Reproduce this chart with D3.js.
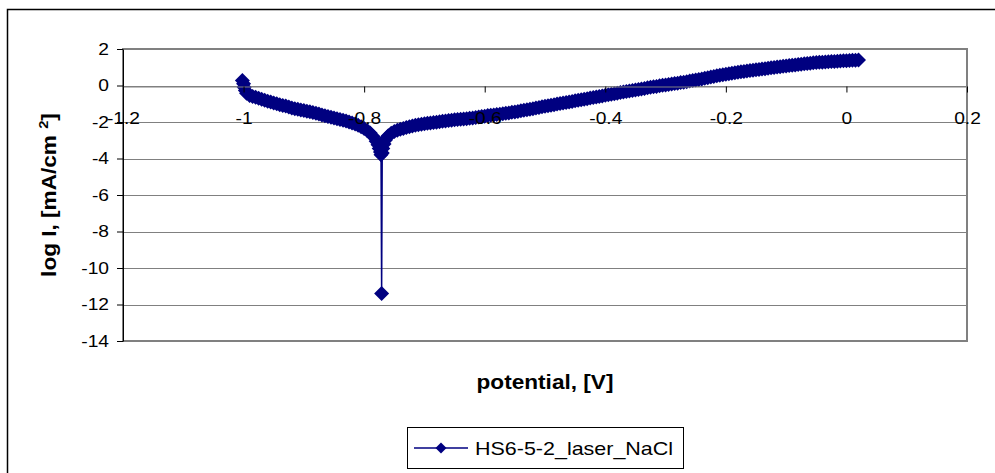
<!DOCTYPE html>
<html>
<head>
	<title>HS6-5-2 laser NaCl</title>
	<script type="text/javascript" src="https://cdn.jsdelivr.net/npm/d3@7"></script>
	<style>
		body { margin: 0; background: #fff; }
		text { font-family: "Liberation Sans", Arial, sans-serif; }
	</style>
</head>
<body>
	<script type="text/javascript">
		var width = 995,
			height = 473;

		var seriesName = 'HS6-5-2_laser_NaCl';
		// potential [V]
		var potential = [-1.002, -1.000, -0.999, -0.997, -0.995, -0.990, -0.985, -0.980, -0.975, -0.970,
			-0.965, -0.960, -0.955, -0.950, -0.945, -0.940, -0.935, -0.930, -0.925, -0.920,
			-0.915, -0.910, -0.905, -0.900, -0.895, -0.890, -0.885, -0.880, -0.875, -0.870,
			-0.865, -0.860, -0.855, -0.850, -0.845, -0.840, -0.835, -0.830, -0.825, -0.820,
			-0.815, -0.810, -0.805, -0.800, -0.795, -0.790, -0.785, -0.780, -0.777, -0.775,
			-0.773, -0.772, -0.771, -0.770, -0.769, -0.767, -0.765, -0.762, -0.760, -0.755,
			-0.750, -0.745, -0.740, -0.735, -0.730, -0.725, -0.720, -0.715, -0.710, -0.705,
			-0.700, -0.695, -0.690, -0.685, -0.680, -0.675, -0.670, -0.665, -0.660, -0.655,
			-0.650, -0.645, -0.640, -0.635, -0.630, -0.625, -0.620, -0.615, -0.610, -0.605,
			-0.600, -0.595, -0.590, -0.585, -0.580, -0.575, -0.570, -0.565, -0.560, -0.555,
			-0.550, -0.545, -0.540, -0.535, -0.530, -0.525, -0.520, -0.515, -0.510, -0.505,
			-0.500, -0.495, -0.490, -0.485, -0.480, -0.475, -0.470, -0.465, -0.460, -0.455,
			-0.450, -0.445, -0.440, -0.435, -0.430, -0.425, -0.420, -0.415, -0.410, -0.405,
			-0.400, -0.395, -0.390, -0.385, -0.380, -0.375, -0.370, -0.365, -0.360, -0.355,
			-0.350, -0.345, -0.340, -0.335, -0.330, -0.325, -0.320, -0.315, -0.310, -0.305,
			-0.300, -0.295, -0.290, -0.285, -0.280, -0.275, -0.270, -0.265, -0.260, -0.255,
			-0.250, -0.245, -0.240, -0.235, -0.230, -0.225, -0.220, -0.215, -0.210, -0.205,
			-0.200, -0.195, -0.190, -0.185, -0.180, -0.175, -0.170, -0.165, -0.160, -0.155,
			-0.150, -0.145, -0.140, -0.135, -0.130, -0.125, -0.120, -0.115, -0.110, -0.105,
			-0.100, -0.095, -0.090, -0.085, -0.080, -0.075, -0.070, -0.065, -0.060, -0.055,
			-0.050, -0.045, -0.040, -0.035, -0.030, -0.025, -0.020, -0.015, -0.010, -0.005,
			0.000, 0.005, 0.010, 0.015, 0.020];
		// log I [mA/cm2]
		var logI = [0.28, 0.10, -0.10, -0.28, -0.42, -0.55, -0.60, -0.65, -0.70, -0.76,
			-0.81, -0.86, -0.91, -0.96, -1.00, -1.05, -1.09, -1.13, -1.18, -1.23,
			-1.27, -1.30, -1.34, -1.37, -1.41, -1.44, -1.48, -1.52, -1.56, -1.61,
			-1.66, -1.70, -1.74, -1.78, -1.82, -1.86, -1.90, -1.95, -2.00, -2.05,
			-2.11, -2.18, -2.26, -2.35, -2.46, -2.60, -2.80, -3.05, -3.25, -3.45,
			-3.65, -3.80, -11.4, -3.70, -3.45, -3.20, -3.00, -2.85, -2.75, -2.62,
			-2.52, -2.45, -2.40, -2.35, -2.30, -2.26, -2.22, -2.18, -2.15, -2.12,
			-2.10, -2.07, -2.05, -2.03, -2.01, -1.98, -1.96, -1.94, -1.92, -1.90,
			-1.88, -1.86, -1.85, -1.83, -1.82, -1.80, -1.78, -1.75, -1.73, -1.70,
			-1.68, -1.65, -1.63, -1.61, -1.59, -1.57, -1.55, -1.52, -1.50, -1.47,
			-1.45, -1.42, -1.39, -1.36, -1.33, -1.30, -1.27, -1.23, -1.20, -1.17,
			-1.14, -1.11, -1.08, -1.05, -1.02, -0.99, -0.96, -0.93, -0.90, -0.87,
			-0.84, -0.81, -0.78, -0.75, -0.72, -0.69, -0.66, -0.63, -0.60, -0.57,
			-0.54, -0.51, -0.48, -0.45, -0.42, -0.39, -0.36, -0.33, -0.30, -0.28,
			-0.25, -0.22, -0.19, -0.16, -0.13, -0.10, -0.07, -0.05, -0.02, 0.01,
			0.03, 0.06, 0.08, 0.11, 0.13, 0.16, 0.18, 0.21, 0.24, 0.27,
			0.30, 0.33, 0.36, 0.40, 0.43, 0.47, 0.50, 0.53, 0.56, 0.59,
			0.61, 0.64, 0.67, 0.70, 0.72, 0.75, 0.77, 0.80, 0.82, 0.84,
			0.86, 0.88, 0.90, 0.92, 0.94, 0.97, 0.99, 1.01, 1.03, 1.05,
			1.07, 1.09, 1.11, 1.13, 1.15, 1.17, 1.19, 1.21, 1.22, 1.24,
			1.26, 1.27, 1.28, 1.29, 1.30, 1.31, 1.32, 1.33, 1.34, 1.35,
			1.36, 1.37, 1.38, 1.39, 1.40];

		var xTicks = [-1.2, -1, -0.8, -0.6, -0.4, -0.2, 0, 0.2];
		var yTicks = [2, 0, -2, -4, -6, -8, -10, -12, -14];

		var data = potential.map(function(v, i){ return {x : v, y : logI[i]}; });

		var svg = d3.select('body')
					.append('svg')
					.attr('width' , width)
					.attr('height' , height);

		var plot = {left : 123, right : 967, top : 49, bottom : 341};
		var navy = '#000080';
		var stretch = 1.13;   // the original texts are drawn a bit wide

		function widen(sel){
			sel.each(function(){
				var w = this.getComputedTextLength();
				d3.select(this).attr('textLength', w * stretch).attr('lengthAdjust', 'spacingAndGlyphs');
			});
		}

		// outer chart frame (runs off the picture on right and bottom)
		svg.append('path')
			.attr('d', 'M7.5,' + (height + 5) + ' V9.5 H' + (width + 5))
			.attr('fill', 'none')
			.attr('stroke', '#000')
			.attr('stroke-width', 1.5);

		var x = d3.scaleLinear().domain([-1.2, 0.2]).range([plot.left, plot.right]);
		var y = d3.scaleLinear().domain([-14, 2]).range([plot.bottom, plot.top]);

		// gridlines
		svg.append('g')
			.selectAll('line')
			.data(yTicks)
			.enter()
			.append('line')
			.attr('x1', plot.left)
			.attr('x2', plot.right)
			.attr('y1', function(d){ return Math.round(y(d)) + 0.5; })
			.attr('y2', function(d){ return Math.round(y(d)) + 0.5; })
			.attr('stroke', '#808080')
			.attr('stroke-width', 1);

		// plot area border
		svg.append('rect')
			.attr('x', plot.left)
			.attr('y', plot.top)
			.attr('width', plot.right - plot.left)
			.attr('height', plot.bottom - plot.top)
			.attr('fill', 'none')
			.attr('stroke', '#808080')
			.attr('stroke-width', 2);

		// series
		var line = d3.line()
					.x(function(d){ return x(d.x); })
					.y(function(d){ return y(d.y); });
		svg.append('path')
			.datum(data)
			.attr('d', line)
			.attr('fill', 'none')
			.attr('stroke', navy)
			.attr('stroke-width', 1.5);

		function diamond(r){
			return 'M0,' + (-r) + 'L' + r + ',0L0,' + r + 'L' + (-r) + ',0Z';
		}
		svg.append('g')
			.selectAll('path')
			.data(data)
			.enter()
			.append('path')
			.attr('d', diamond(7.5))
			.attr('transform', function(d){ return 'translate(' + x(d.x) + ',' + y(d.y) + ')'; })
			.attr('fill', navy);

		// y axis
		var yAxis = svg.append('g')
			.attr('transform', 'translate(' + plot.left + ',0)')
			.call(d3.axisLeft(y).tickValues(yTicks).tickSize(6).tickSizeOuter(0).tickPadding(8)
				.tickFormat(function(d){ return String(d); }));
		yAxis.select('.domain').attr('stroke', '#000');
		yAxis.selectAll('text').attr('font-size', 17).attr('fill', '#000')
			.attr('font-family', '"Liberation Sans", Arial, sans-serif')
			.call(widen);

		// x axis crossing at y = 0
		var xAxis = svg.append('g')
			.attr('transform', 'translate(0,' + (Math.round(y(0)) + 0.5) + ')')
			.call(d3.axisBottom(x).tickValues(xTicks).tickSize(6).tickSizeOuter(0).tickPadding(19)
				.tickFormat(function(d){ return String(d); }));
		xAxis.select('.domain').attr('stroke', '#808080');
		xAxis.selectAll('text').attr('font-size', 17).attr('fill', '#000')
			.attr('font-family', '"Liberation Sans", Arial, sans-serif')
			.call(widen);

		// axis titles
		svg.append('text')
			.attr('x', (plot.left + plot.right) / 2)
			.attr('y', 389)
			.attr('text-anchor', 'middle')
			.attr('font-size', 20)
			.attr('font-weight', 'bold')
			.text('potential, [V]')
			.call(widen);

		var yTitle = svg.append('text')
			.attr('transform', 'translate(56,' + ((plot.top + plot.bottom) / 2) + ') rotate(-90) scale(' + stretch + ',1)')
			.attr('text-anchor', 'middle')
			.attr('font-size', 20)
			.attr('font-weight', 'bold');
		yTitle.append('tspan').text('log I, [mA/cm ');
		yTitle.append('tspan').attr('dy', -8).attr('font-size', 13).text('2');
		yTitle.append('tspan').attr('dy', 8).text(']');

		// legend
		var legend = svg.append('g').attr('transform', 'translate(407,427)');
		legend.append('rect')
			.attr('x', 0.5).attr('y', 0.5)
			.attr('width', 276).attr('height', 41)
			.attr('fill', '#fff')
			.attr('stroke', '#000')
			.attr('stroke-width', 1);
		legend.append('line')
			.attr('x1', 7).attr('x2', 61)
			.attr('y1', 21).attr('y2', 21)
			.attr('stroke', navy)
			.attr('stroke-width', 1.5);
		legend.append('path')
			.attr('d', diamond(5.5))
			.attr('transform', 'translate(34,21)')
			.attr('fill', navy);
		legend.append('text')
			.attr('x', 68)
			.attr('y', 21)
			.attr('dy', '0.35em')
			.attr('font-size', 19)
			.text(seriesName)
			.call(widen);
	</script>
</body>
</html>
